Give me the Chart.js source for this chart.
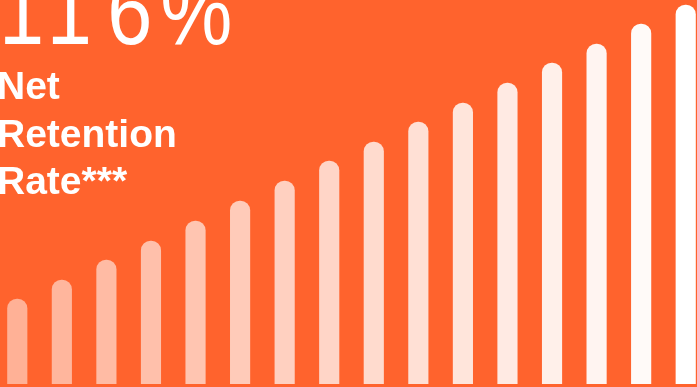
<!DOCTYPE html>
<html>
<head>
<meta charset="utf-8">
<script src="https://cdn.jsdelivr.net/npm/chart.js@4"></script>
<style>
  html, body { margin: 0; padding: 0; }
  body {
    width: 697px; height: 387px; overflow: hidden; position: relative;
    background: #FF632D; font-family: "Liberation Sans", Arial, sans-serif; color: #fff;
  }
  #wrap { position: absolute; left: -5px; top: 0; width: 713px; height: 384px; }
  .big { position: absolute; left: -1px; top: -37px; font-size: 96px; line-height: 96px; white-space: nowrap;
         transform: scaleX(0.845); transform-origin: 0 0; }
  .big .one2 { margin-left: 3.2px; }
  .big .six { margin-left: 18px; }
  .big .pct { margin-left: 9.6px; }
  .label { position: absolute; left: -3px; top: 62px; font-size: 39px; line-height: 47.5px; font-weight: bold; }
</style>
</head>
<body>
<div id="wrap"><canvas id="bars" width="713" height="384"></canvas></div>
<div class="big">1<span class="one2">1</span><span class="six">6</span><span class="pct">%</span></div>
<div class="label">Net<br>Retention<br>Rate***</div>
<script>
// 16 periods, bar heights
const periods = ['1', '2', '3', '4', '5', '6', '7', '8', '9', '10', '11', '12', '13', '14', '15', '16'];
const heights = [85, 104, 124, 143, 163, 183, 203, 223, 242, 262, 281, 301, 321, 340, 360, 379];
const yMax = 384;

// fade from half-white to full white
const barColors = periods.map((p, i) => `rgba(255,255,255,${(0.5 + 0.5 * i / (periods.length - 1)).toFixed(3)})`);

new Chart(document.getElementById('bars'), {
    type: 'bar',
    data: {
        labels: periods,
        datasets: [{
            data: heights,
            backgroundColor: barColors,
            borderWidth: 0,
            borderRadius: 10,
            borderSkipped: 'start',
            barThickness: 19.5
        }]
    },
    options: {
        responsive: false,
        animation: false,
        layout: { padding: 0 },
        scales: {
            x: { display: false },
            y: { display: false, min: 0, max: yMax }
        },
        plugins: { legend: { display: false }, tooltip: { enabled: false } }
    }
});
</script>
</body>
</html>
